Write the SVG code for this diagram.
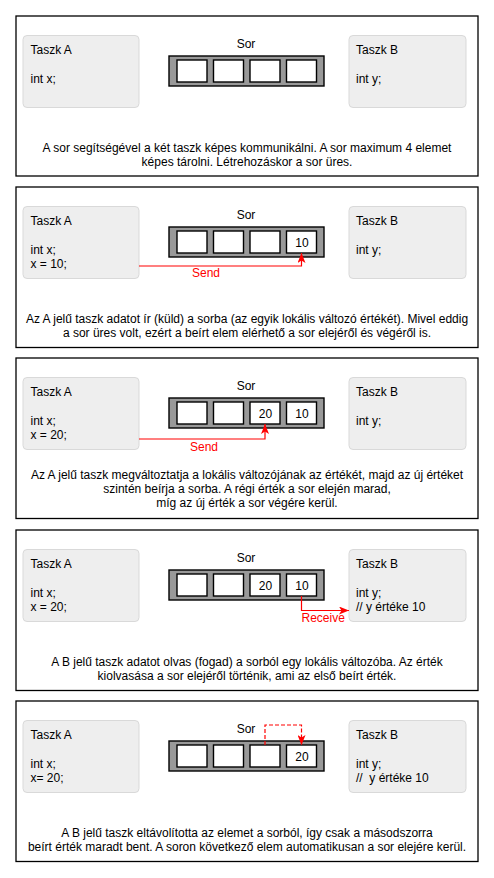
<svg xmlns="http://www.w3.org/2000/svg" width="494" height="878" viewBox="0 0 494 878">
<style>
text{font-family:"Liberation Sans",Arial,sans-serif;font-size:12px;fill:#000}
.panel{fill:#fff;stroke:#000;stroke-width:1.3}
.task{fill:#eeeeee;stroke:#d9d9d9;stroke-width:1}
.q{fill:#999999;stroke:#000;stroke-width:1.4}
.cell{fill:#fff;stroke:#000;stroke-width:1.4}
.c{text-anchor:middle}
.red{fill:#ff0000}
.wire{fill:none;stroke:#ff0000;stroke-width:1.2}
.dash{stroke-dasharray:4 2}
</style>
<defs>
<marker id="arr" viewBox="0 0 10 8" refX="10" refY="4" markerWidth="10" markerHeight="8" markerUnits="userSpaceOnUse" orient="auto">
<path d="M0,0 L10,4 L0,8 L2.5,4 Z" fill="#ff0000"/>
</marker>
</defs>
<rect width="494" height="878" fill="#fff"/>

<!-- Panel 1 -->
<g id="panel1">
<rect class="panel" x="16" y="16" width="462" height="160"/>
<g id="p1-taskA"><rect class="task" x="23" y="35.5" width="116" height="72" rx="4"/>
<text x="30.5" y="54">Taszk A</text><text x="30.5" y="82.8">int x;</text></g>
<g id="p1-queue"><text class="c" x="246" y="48">Sor</text>
<rect class="q" x="169" y="56" width="155" height="30"/>
<rect class="cell" x="177" y="60" width="30" height="22"/><rect class="cell" x="213.5" y="60" width="30" height="22"/>
<rect class="cell" x="250" y="60" width="30" height="22"/><rect class="cell" x="286.5" y="60" width="30" height="22"/></g>
<g id="p1-taskB"><rect class="task" x="349" y="35.5" width="117" height="72" rx="4"/>
<text x="356" y="54">Taszk B</text><text x="356" y="82.8">int y;</text></g>
<g id="p1-desc"><text class="c" x="247" y="152">A sor segítségével a két taszk képes kommunikálni. A sor maximum 4 elemet</text>
<text class="c" x="247" y="166">képes tárolni. Létrehozáskor a sor üres.</text></g>
</g>

<!-- Panel 2 -->
<g id="panel2">
<rect class="panel" x="16" y="187" width="462" height="160.5"/>
<g id="p2-taskA"><rect class="task" x="23" y="206.5" width="116" height="72" rx="4"/>
<text x="30.5" y="225">Taszk A</text><text x="30.5" y="253.8">int x;</text><text x="30.5" y="268.2">x = 10;</text></g>
<g id="p2-queue"><text class="c" x="246" y="219">Sor</text>
<rect class="q" x="169" y="227" width="155" height="30"/>
<rect class="cell" x="177" y="231" width="30" height="22"/><rect class="cell" x="213.5" y="231" width="30" height="22"/>
<rect class="cell" x="250" y="231" width="30" height="22"/><rect class="cell" x="286.5" y="231" width="30" height="22"/>
<text class="c" x="302" y="247">10</text></g>
<g id="p2-taskB"><rect class="task" x="349" y="206.5" width="117" height="72" rx="4"/>
<text x="356" y="225">Taszk B</text><text x="356" y="253.8">int y;</text></g>
<g id="p2-desc"><text class="c" x="247" y="323">Az A jelű taszk adatot ír (küld) a sorba (az egyik lokális változó értékét). Mivel eddig</text>
<text class="c" x="247" y="337">a sor üres volt, ezért a beírt elem elérhető a sor elejéről és végéről is.</text></g>
</g>

<!-- Panel 3 -->
<g id="panel3">
<rect class="panel" x="16" y="358" width="462" height="160.5"/>
<g id="p3-taskA"><rect class="task" x="23" y="377.5" width="116" height="72" rx="4"/>
<text x="30.5" y="396">Taszk A</text><text x="30.5" y="424.8">int x;</text><text x="30.5" y="439.2">x = 20;</text></g>
<g id="p3-queue"><text class="c" x="246" y="390">Sor</text>
<rect class="q" x="169" y="398" width="155" height="30"/>
<rect class="cell" x="177" y="402" width="30" height="22"/><rect class="cell" x="213.5" y="402" width="30" height="22"/>
<rect class="cell" x="250" y="402" width="30" height="22"/><rect class="cell" x="286.5" y="402" width="30" height="22"/>
<text class="c" x="265.5" y="418">20</text><text class="c" x="302" y="418">10</text></g>
<g id="p3-taskB"><rect class="task" x="349" y="377.5" width="117" height="72" rx="4"/>
<text x="356" y="396">Taszk B</text><text x="356" y="424.8">int y;</text></g>
<g id="p3-desc"><text class="c" x="247" y="479">Az A jelű taszk megváltoztatja a lokális változójának az értékét, majd az új értéket</text>
<text class="c" x="247" y="493">szintén beírja a sorba. A régi érték a sor elején marad,</text>
<text class="c" x="247" y="507">míg az új érték a sor végére kerül.</text></g>
</g>

<!-- Panel 4 -->
<g id="panel4">
<rect class="panel" x="16" y="530" width="462" height="160.5"/>
<g id="p4-taskA"><rect class="task" x="23" y="549.5" width="116" height="72" rx="4"/>
<text x="30.5" y="568">Taszk A</text><text x="30.5" y="596.8">int x;</text><text x="30.5" y="611.2">x = 20;</text></g>
<g id="p4-queue"><text class="c" x="246" y="562">Sor</text>
<rect class="q" x="169" y="570" width="155" height="30"/>
<rect class="cell" x="177" y="574" width="30" height="22"/><rect class="cell" x="213.5" y="574" width="30" height="22"/>
<rect class="cell" x="250" y="574" width="30" height="22"/><rect class="cell" x="286.5" y="574" width="30" height="22"/>
<text class="c" x="265.5" y="590">20</text><text class="c" x="302" y="590">10</text></g>
<g id="p4-taskB"><rect class="task" x="349" y="549.5" width="117" height="72" rx="4"/>
<text x="356" y="568">Taszk B</text><text x="356" y="596.8">int y;</text><text x="356" y="611.2">// y értéke 10</text></g>
<g id="p4-desc"><text class="c" x="247" y="666">A B jelű taszk adatot olvas (fogad) a sorból egy lokális változóba. Az érték</text>
<text class="c" x="247" y="680">kiolvasása a sor elejéről történik, ami az első beírt érték.</text></g>
</g>

<!-- Panel 5 -->
<g id="panel5">
<rect class="panel" x="16" y="701" width="462" height="160.5"/>
<g id="p5-taskA"><rect class="task" x="23" y="720.5" width="116" height="72" rx="4"/>
<text x="30.5" y="739">Taszk A</text><text x="30.5" y="767.8">int x;</text><text x="30.5" y="782.2">x= 20;</text></g>
<g id="p5-queue"><text class="c" x="246" y="733">Sor</text>
<rect class="q" x="169" y="741" width="155" height="30"/>
<rect class="cell" x="177" y="745" width="30" height="22"/><rect class="cell" x="213.5" y="745" width="30" height="22"/>
<rect class="cell" x="250" y="745" width="30" height="22"/><rect class="cell" x="286.5" y="745" width="30" height="22"/>
<text class="c" x="302" y="761">20</text></g>
<g id="p5-taskB"><rect class="task" x="349" y="720.5" width="117" height="72" rx="4"/>
<text x="356" y="739">Taszk B</text><text x="356" y="767.8">int y;</text><text x="356" y="782.2" xml:space="preserve">//  y értéke 10</text></g>
<g id="p5-desc"><text class="c" x="247" y="837">A B jelű taszk eltávolította az elemet a sorból, így csak a másodszorra</text>
<text class="c" x="247" y="851">beírt érték maradt bent. A soron következő elem automatikusan a sor elejére kerül.</text></g>
</g>

<!-- Connectors -->
<g id="connectors">
<path class="wire" d="M139,266 H301.5 V253" marker-end="url(#arr)"/>
<text class="c red" x="206" y="277">Send</text>
<path class="wire" d="M139,439 H265 V424" marker-end="url(#arr)"/>
<text class="c red" x="204" y="451">Send</text>
<path class="wire" d="M301.5,596 V610.5 H349" marker-end="url(#arr)"/>
<text class="red" x="301.5" y="622">Receive</text>
<path class="wire dash" d="M265,745 V725 H301.5 V745" marker-end="url(#arr)"/>
</g>
</svg>
